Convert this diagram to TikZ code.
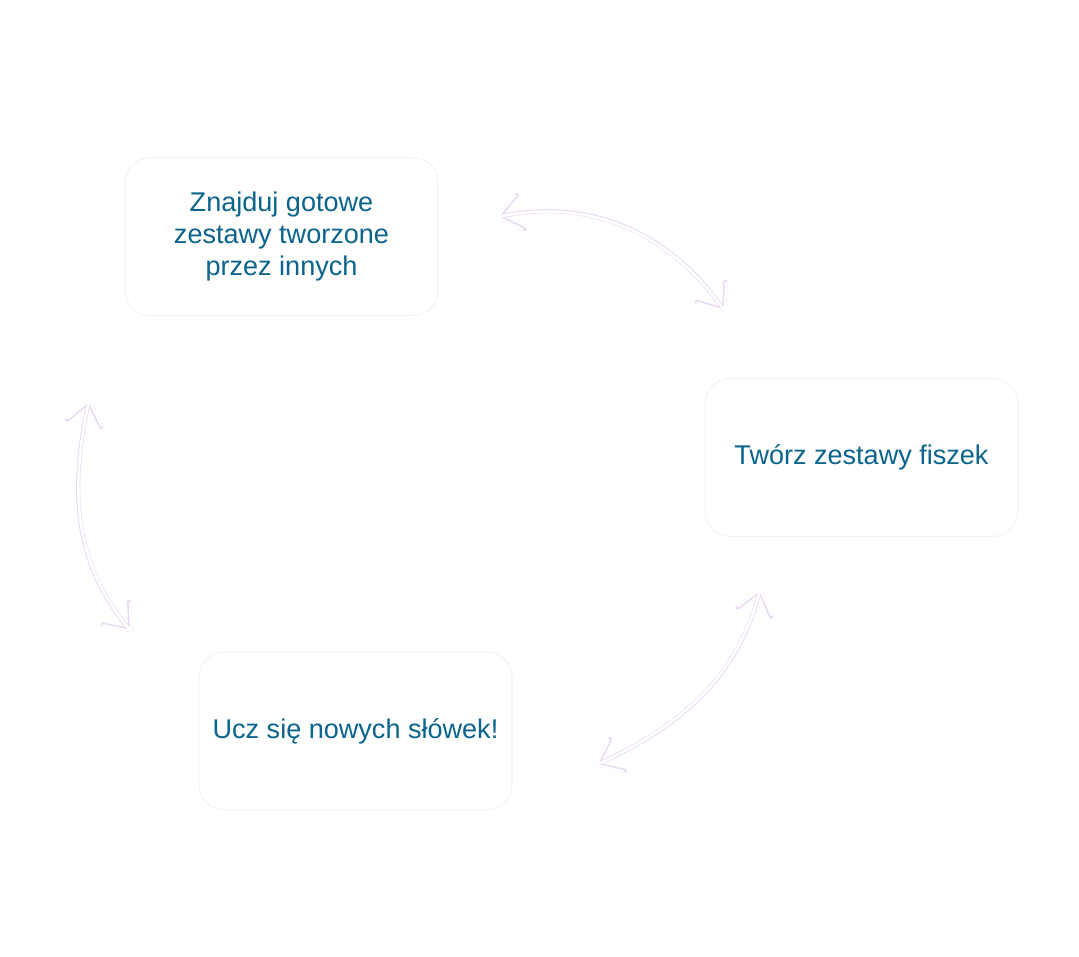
\documentclass[tikz,border=0pt]{standalone}
\usepackage{fontspec}
\setmainfont{Liberation Sans}
\usetikzlibrary{arrows.meta}
\definecolor{txtblue}{RGB}{10,100,140}
\definecolor{boxline}{RGB}{247,240,252}
\definecolor{arrline}{RGB}{234,216,247}
\tikzset{
  cardbox/.style={draw=boxline, line width=0.6pt, fill=white, rounded corners=0.5cm,
    minimum width=6.26cm, minimum height=3.16cm, inner sep=0pt,
    text=txtblue, align=center, font=\fontsize{15.4}{18.2}\selectfont},
  arrouter/.style={draw=arrline, line width=2.4pt, line cap=round, line join=round,
    {Straight Barb[length=0.45cm, width=0.7cm, line cap=round]}-{Straight Barb[length=0.45cm, width=0.7cm, line cap=round]}},
  arrinner/.style={draw=white, line width=1.5pt, line cap=round, line join=round,
    {Straight Barb[length=0.45cm, width=0.7cm, line cap=round]}-{Straight Barb[length=0.45cm, width=0.7cm, line cap=round]}}
}
\begin{document}
\begin{tikzpicture}[x=0.02cm, y=-0.02cm]
\path[use as bounding box, fill=white] (0,0) rectangle (1079,957);

\node[cardbox] (find) at (281.5,236.5) {Znajduj gotowe\\zestawy tworzone\\przez innych};
\node[cardbox] (create) at (861.5,457.5) {Twórz zestawy fiszek};
\node[cardbox] (learn) at (355.5,731) {Ucz się nowych słówek!};

\coordinate (a1s) at (495,217.5);
\coordinate (a1e) at (726,313);
\coordinate (a2s) at (89.5,398);
\coordinate (a2e) at (132.5,633);
\coordinate (a3s) at (594,766);
\coordinate (a3e) at (761,587);

\foreach \st in {arrouter,arrinner}{
  \draw[\st] (a1s) to[out=12, in=125] (a1e);
  \draw[\st] (a2s) to[out=-102, in=130] (a2e);
  \draw[\st] (a3s) to[out=25, in=-105] (a3e);
}
\end{tikzpicture}
\end{document}
